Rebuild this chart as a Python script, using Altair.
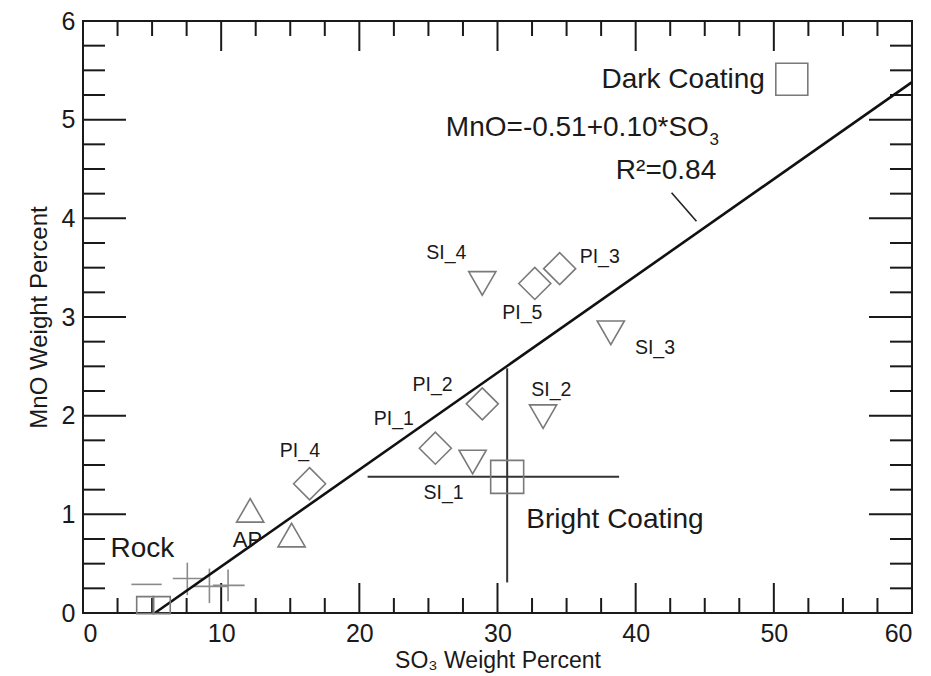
import altair as alt
import pandas as pd

# ---------------- data ----------------
pl_names = ["PI_1", "PI_2", "PI_3", "PI_4", "PI_5"]
pl_so3 = [25.5, 28.9, 34.5, 16.4, 32.7]
pl_mno = [1.67, 2.12, 3.49, 1.31, 3.34]

si_names = ["SI_1", "SI_2", "SI_3", "SI_4"]
si_so3 = [28.2, 33.3, 38.2, 28.9]
si_mno = [1.53, 1.99, 2.84, 3.34]

ap_so3 = [12.1, 15.1]
ap_mno = [1.04, 0.79]

rock_sq_so3 = [4.5, 5.7]
rock_sq_mno = [0.08, 0.08]

rock_so3 = [4.6, 7.55, 9.15, 10.5]
rock_mno = [0.29, 0.35, 0.27, 0.28]
rock_so3_lo = [3.5, 6.5, 7.9, 9.4]
rock_so3_hi = [5.7, 8.8, 10.5, 11.7]
rock_mno_lo = [0.29, 0.18, 0.10, 0.12]
rock_mno_hi = [0.29, 0.51, 0.45, 0.44]

bright_so3 = [30.7]
bright_mno = [1.38]
bright_so3_lo = [20.6]
bright_so3_hi = [38.8]
bright_mno_lo = [0.31]
bright_mno_hi = [2.48]

dark_so3 = [51.3]
dark_mno = [5.41]

reg_so3 = [5.2, 60.0]
reg_mno = [0.0, 5.38]

leader_so3 = [42.6, 44.4]
leader_mno = [4.26, 3.97]

x_major = [0, 10, 20, 30, 40, 50, 60]
x_minor = [2.5, 5, 7.5, 12.5, 15, 17.5, 22.5, 25, 27.5, 32.5, 35, 37.5,
           42.5, 45, 47.5, 52.5, 55, 57.5]
y_major = [0, 1, 2, 3, 4, 5, 6]
y_minor = [0.25, 0.5, 0.75, 1.25, 1.5, 1.75, 2.25, 2.5, 2.75, 3.25, 3.5, 3.75,
           4.25, 4.5, 4.75, 5.25, 5.5, 5.75]

# label annotations (text, SO3, MnO)
small_labels = ["SI_4", "PI_3", "PI_5", "SI_3", "PI_2", "SI_2", "PI_1", "PI_4", "SI_1"]
small_lab_x = [26.3, 37.4, 31.8, 41.4, 25.3, 33.9, 22.5, 15.7, 26.1]
small_lab_y = [3.65, 3.61, 3.04, 2.69, 2.31, 2.26, 1.97, 1.64, 1.22]

W, H = 829, 592
FONT = "Liberation Sans"
INK = "#1a1a1a"
MARK = "#7a7a7a"

xs = alt.Scale(domain=[0, 60], nice=False, zero=False)
ys = alt.Scale(domain=[0, 6], nice=False, zero=False)
x_axis = alt.Axis(values=x_major, tickSize=0, domain=False, grid=False,
                  labelFontSize=25, labelFont=FONT, labelColor=INK, labelPadding=8,
                  title="SO₃ Weight Percent", titleFontSize=23, titleFont=FONT,
                  titleFontWeight="normal", titleColor=INK, titlePadding=3)
y_axis = alt.Axis(values=y_major, tickSize=0, domain=False, grid=False,
                  labelFontSize=25, labelFont=FONT, labelColor=INK, labelPadding=8,
                  title="MnO Weight Percent", titleFontSize=24, titleFont=FONT,
                  titleFontWeight="normal", titleColor=INK, titlePadding=10)


def X(f):
    return alt.X(f, type="quantitative", scale=xs, axis=x_axis)


def Y(f):
    return alt.Y(f, type="quantitative", scale=ys, axis=y_axis)


layers = []

# ticks (inward, on all four sides)
for vals, ln in [(x_major, 30), (x_minor, 15)]:
    d = pd.DataFrame({"v": vals})
    layers.append(alt.Chart(d).mark_rule(color=INK, strokeWidth=2).encode(
        x=X("v"), y=alt.value(H), y2=alt.value(H - ln)))
    layers.append(alt.Chart(d).mark_rule(color=INK, strokeWidth=2).encode(
        x=X("v"), y=alt.value(0), y2=alt.value(ln)))
for vals, ln in [(y_major, 43), (y_minor, 22)]:
    d = pd.DataFrame({"v": vals})
    layers.append(alt.Chart(d).mark_rule(color=INK, strokeWidth=2).encode(
        y=Y("v"), x=alt.value(0), x2=alt.value(ln)))
    layers.append(alt.Chart(d).mark_rule(color=INK, strokeWidth=2).encode(
        y=Y("v"), x=alt.value(W), x2=alt.value(W - ln)))

# rock crosses
rock = pd.DataFrame({"x": rock_so3, "y": rock_mno, "xlo": rock_so3_lo, "xhi": rock_so3_hi,
                     "ylo": rock_mno_lo, "yhi": rock_mno_hi})
layers.append(alt.Chart(rock).mark_rule(color="#8a8a8a", strokeWidth=1.6).encode(
    x=X("xlo"), x2="xhi", y=Y("y")))
layers.append(alt.Chart(rock).mark_rule(color="#8a8a8a", strokeWidth=1.6).encode(
    x=X("x"), y=Y("ylo"), y2="yhi"))

# bright coating error bars
bright = pd.DataFrame({"x": bright_so3, "y": bright_mno, "xlo": bright_so3_lo,
                       "xhi": bright_so3_hi, "ylo": bright_mno_lo, "yhi": bright_mno_hi})
layers.append(alt.Chart(bright).mark_rule(color="#333333", strokeWidth=2).encode(
    x=X("xlo"), x2="xhi", y=Y("y")))
layers.append(alt.Chart(bright).mark_rule(color="#333333", strokeWidth=2).encode(
    x=X("x"), y=Y("ylo"), y2="yhi"))

# regression line
reg = pd.DataFrame({"x": reg_so3, "y": reg_mno})
layers.append(alt.Chart(reg).mark_line(color="#111111", strokeWidth=2.6).encode(
    x=X("x"), y=Y("y")))

# leader line for R^2
lead = pd.DataFrame({"x": [leader_so3[0]], "y": [leader_mno[0]],
                     "x2": [leader_so3[1]], "y2": [leader_mno[1]]})
layers.append(alt.Chart(lead).mark_rule(color="#222222", strokeWidth=1.6).encode(
    x=X("x"), y=Y("y"), x2="x2", y2="y2"))

# markers
pl = pd.DataFrame({"x": pl_so3, "y": pl_mno, "n": pl_names})
si = pd.DataFrame({"x": si_so3, "y": si_mno, "n": si_names})
ap = pd.DataFrame({"x": ap_so3, "y": ap_mno})
rsq = pd.DataFrame({"x": rock_sq_so3, "y": rock_sq_mno})
brsq = pd.DataFrame({"x": bright_so3, "y": bright_mno})
dksq = pd.DataFrame({"x": dark_so3, "y": dark_mno})

layers.append(alt.Chart(pl).mark_point(shape="diamond", size=1024, filled=False,
                                       color=MARK, strokeWidth=1.6, opacity=1).encode(x=X("x"), y=Y("y")))
layers.append(alt.Chart(si).mark_point(shape="triangle-down", size=740, filled=False,
                                       color=MARK, strokeWidth=1.6, opacity=1).encode(x=X("x"), y=Y("y")))
layers.append(alt.Chart(ap).mark_point(shape="triangle-up", size=740, filled=False,
                                       color=MARK, strokeWidth=1.6, opacity=1).encode(x=X("x"), y=Y("y")))
layers.append(alt.Chart(rsq).mark_point(shape="square", size=289, filled=False,
                                        color=MARK, strokeWidth=1.6, opacity=1).encode(x=X("x"), y=Y("y")))
layers.append(alt.Chart(brsq).mark_point(shape="square", size=1089, filled=False,
                                         color=MARK, strokeWidth=1.6, opacity=1).encode(x=X("x"), y=Y("y")))
layers.append(alt.Chart(dksq).mark_point(shape="square", size=1024, filled=False,
                                         color=MARK, strokeWidth=1.6, opacity=1).encode(x=X("x"), y=Y("y")))

# small labels
sl = pd.DataFrame({"t": small_labels, "x": small_lab_x, "y": small_lab_y})
layers.append(alt.Chart(sl).mark_text(font=FONT, fontSize=19.5, color=INK,
                                      align="center", baseline="middle").encode(
    x=X("x"), y=Y("y"), text="t:N"))

# big annotations
big = pd.DataFrame({
    "t": ["Bright Coating", "Rock", "R²=0.84"],
    "x": [38.5, 4.3, 42.2],
    "y": [0.94, 0.65, 4.48],
})
layers.append(alt.Chart(big).mark_text(font=FONT, fontSize=28, color=INK,
                                       align="center", baseline="middle").encode(
    x=X("x"), y=Y("y"), text="t:N"))

ap_lab = pd.DataFrame({"t": ["AP"], "x": [11.9], "y": [0.74]})
layers.append(alt.Chart(ap_lab).mark_text(font=FONT, fontSize=22, color=INK,
                                          align="center", baseline="middle").encode(
    x=X("x"), y=Y("y"), text="t:N"))

right_lab = pd.DataFrame({"t": ["Dark Coating", "MnO=-0.51+0.10*SO"],
                          "x": [49.35, 45.3], "y": [5.40, 4.92]})
layers.append(alt.Chart(right_lab).mark_text(font=FONT, fontSize=28, color=INK,
                                             align="right", baseline="middle").encode(
    x=X("x"), y=Y("y"), text="t:N"))
sub_lab = pd.DataFrame({"t": ["3"], "x": [45.35], "y": [4.79]})
layers.append(alt.Chart(sub_lab).mark_text(font=FONT, fontSize=17, color=INK,
                                           align="left", baseline="middle").encode(
    x=X("x"), y=Y("y"), text="t:N"))

chart = alt.layer(*layers).properties(
    width=W, height=H,
    padding={"left": 83, "top": 21, "right": 19, "bottom": 63},
    autosize=alt.AutoSizeParams(type="none"),
    background="white",
).configure_view(stroke=INK, strokeWidth=2)

chart.save("out.html", embed_options={"renderer": "svg", "actions": False})
